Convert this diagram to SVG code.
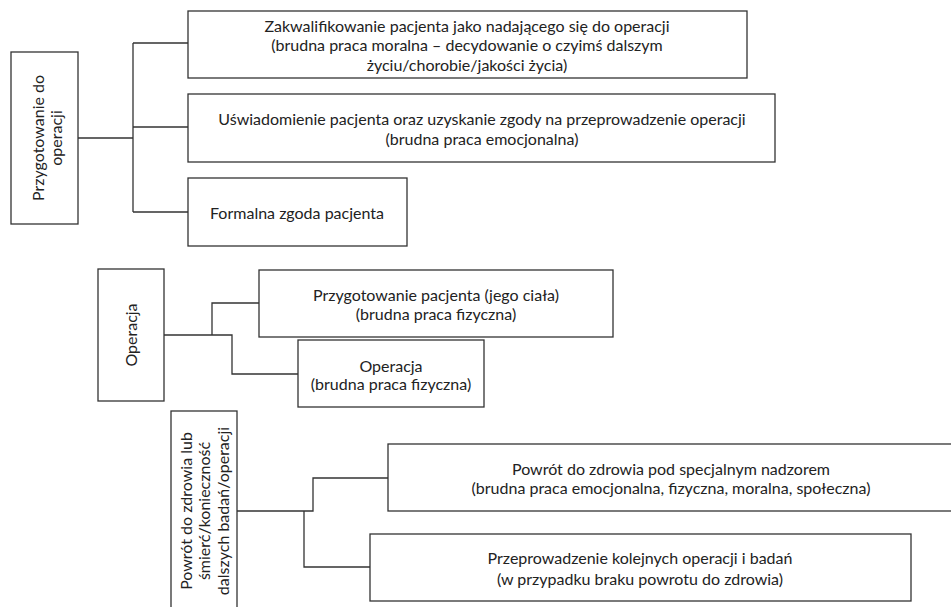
<svg xmlns="http://www.w3.org/2000/svg" width="951" height="607" viewBox="0 0 951 607">
<style>
.box{fill:#fff;stroke:#333;stroke-width:1.3}
.ln{fill:none;stroke:#333;stroke-width:1.3}
text{font-family:Lato,"Liberation Sans",sans-serif;font-size:16px;fill:#222;text-anchor:middle;dominant-baseline:central}
</style>
<rect width="951" height="607" fill="#fff"/>
<g id="connectors">
<path class="ln" d="M78,138 H133 M133,43 V212 M133,43 H188 M133,127 H188 M133,212 H188"/>
<path class="ln" d="M164,335 H232 V374 H298 M212,335 V303 H259"/>
<path class="ln" d="M237,511 H313 V478 H388 M304,511 V567 H370"/>
</g>
<g id="n1">
<rect class="box" x="11" y="52" width="67" height="172"/>
<text transform="translate(37,138) rotate(-90)">Przygotowanie do</text>
<text transform="translate(55,138) rotate(-90)">operacji</text>
</g>
<g id="nA">
<rect class="box" x="188" y="11" width="559" height="67"/>
<text x="467" y="25">Zakwalifikowanie pacjenta jako nadającego się do operacji</text>
<text x="467" y="44.5">(brudna praca moralna – decydowanie o czyimś dalszym</text>
<text x="467" y="64">życiu/chorobie/jakości życia)</text>
</g>
<g id="nB">
<rect class="box" x="188" y="94" width="587" height="68"/>
<text x="482" y="118">Uświadomienie pacjenta oraz uzyskanie zgody na przeprowadzenie operacji</text>
<text x="482" y="138">(brudna praca emocjonalna)</text>
</g>
<g id="nC">
<rect class="box" x="188" y="178" width="219" height="68"/>
<text x="297" y="212">Formalna zgoda pacjenta</text>
</g>
<g id="n2">
<rect class="box" x="98" y="269" width="66" height="132"/>
<text transform="translate(130,335) rotate(-90)">Operacja</text>
</g>
<g id="nD">
<rect class="box" x="259" y="270" width="354" height="67"/>
<text x="436" y="294">Przygotowanie pacjenta (jego ciała)</text>
<text x="436" y="313">(brudna praca fizyczna)</text>
</g>
<g id="nE">
<rect class="box" x="298" y="340" width="186" height="67"/>
<text x="391" y="365">Operacja</text>
<text x="391" y="383">(brudna praca fizyczna)</text>
</g>
<g id="n3">
<rect class="box" x="171" y="411" width="66" height="202"/>
<text transform="translate(185,511) rotate(-90)">Powrót do zdrowia lub</text>
<text transform="translate(203.5,511) rotate(-90)">śmierć/konieczność</text>
<text transform="translate(222,511) rotate(-90)">dalszych badań/operacji</text>
</g>
<g id="nF">
<rect class="box" x="388" y="444" width="570" height="67"/>
<text x="671" y="468">Powrót do zdrowia pod specjalnym nadzorem</text>
<text x="671" y="487">(brudna praca emocjonalna, fizyczna, moralna, społeczna)</text>
</g>
<g id="nG">
<rect class="box" x="370" y="534" width="541" height="67"/>
<text x="640" y="557">Przeprowadzenie kolejnych operacji i badań</text>
<text x="640" y="578">(w przypadku braku powrotu do zdrowia)</text>
</g>
</svg>
